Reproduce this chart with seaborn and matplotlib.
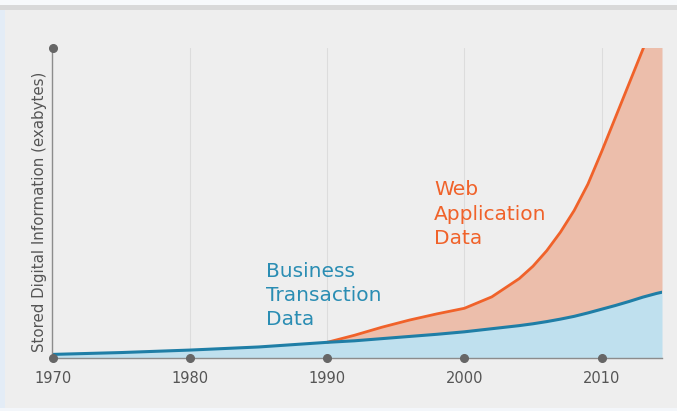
import numpy as np
import pandas as pd
import matplotlib
matplotlib.use("Agg")
import matplotlib.pyplot as plt
import seaborn as sns
from matplotlib.patches import Rectangle

# Data (arbitrary units: top of axis = 100)
years = [1970, 1975, 1980, 1985, 1990, 1992, 1994, 1996, 1998, 2000, 2002,
         2004, 2005, 2006, 2007, 2008, 2009, 2010, 2011, 2012, 2013, 2014, 2014.4]
business = [1.0, 1.6, 2.4, 3.4, 4.9, 5.4, 6.1, 6.8, 7.5, 8.3, 9.3,
            10.3, 10.9, 11.6, 12.4, 13.3, 14.4, 15.6, 16.8, 18.1, 19.5, 20.7, 21.1]
web_start = 1990
web = [4.9, 7.2, 9.8, 12.1, 14.1, 15.9, 19.6,
       25.5, 29.5, 34.5, 40.5, 47.5, 56.0, 66.5, 77.5, 88.5, 99.5, 110.5, 115.0]
decades = [1970, 1980, 1990, 2000, 2010]
decade_labels = ["1970", "1980", "1990", "2000", "2010"]

df = pd.DataFrame({"year": years, "business": business})
web_df = df[df["year"] >= web_start].copy()
web_df["web"] = web

BLUE_LINE = "#1f7ea6"
BLUE_FILL = "#bfe0ee"
ORANGE_LINE = "#f0622a"
ORANGE_FILL = "#ecbeab"
PANEL = "#eeeeee"
AXIS = "#8c8c8c"
DOT = "#666666"
TEXT = "#555555"

sns.set_style("white")
plt.rcParams["font.family"] = ["DejaVu Sans"]

fig = plt.figure(figsize=(6.77, 4.11), dpi=100, facecolor=PANEL)
# page frame bits around the panel
fig.patches.append(Rectangle((0, 1 - 5 / 411), 1, 5 / 411, transform=fig.transFigure,
                             facecolor="#f7f9fb", edgecolor="none", zorder=0))
fig.patches.append(Rectangle((0, 1 - 10 / 411), 1, 5 / 411, transform=fig.transFigure,
                             facecolor="#d9d9d9", edgecolor="none", zorder=0))
fig.patches.append(Rectangle((0, 0), 5 / 677, 1 - 10 / 411, transform=fig.transFigure,
                             facecolor="#e3ecf6", edgecolor="none", zorder=0))
fig.patches.append(Rectangle((0, 0), 1, 3 / 411, transform=fig.transFigure,
                             facecolor="#f3f6fa", edgecolor="none", zorder=0))

ax = fig.add_axes([52 / 677, 1 - 357.5 / 411, 610 / 677, 309.5 / 411])
ax.set_facecolor(PANEL)

# fills
ax.fill_between(df["year"], 0, df["business"], color=BLUE_FILL, lw=0, zorder=1)
ax.fill_between(web_df["year"], web_df["business"], web_df["web"],
                color=ORANGE_FILL, lw=0, zorder=1)

# lines
sns.lineplot(data=web_df, x="year", y="web", ax=ax, color=ORANGE_LINE, lw=2,
             zorder=3, solid_joinstyle="round")
sns.lineplot(data=df, x="year", y="business", ax=ax, color=BLUE_LINE, lw=2.2,
             zorder=4, solid_joinstyle="round")

ax.set_xlim(1969.95, 2014.4)
ax.set_ylim(0, 100)

# vertical grid
for d in decades[1:]:
    ax.axvline(d, color="#dcdcdc", lw=0.8, zorder=0.5)

for s in ["top", "right"]:
    ax.spines[s].set_visible(False)
for s in ["left", "bottom"]:
    ax.spines[s].set_color(AXIS)
    ax.spines[s].set_linewidth(1)
    ax.spines[s].set_zorder(5)

# dots on axes
ax.plot(decades, [0] * len(decades), "o", color=DOT, ms=5.5, clip_on=False, zorder=6)
ax.plot([decades[0]], [100], "o", color=DOT, ms=5.5, clip_on=False, zorder=6)

ax.set_xticks(decades)
ax.set_xticklabels(decade_labels)
ax.set_yticks([])
ax.tick_params(axis="x", length=0, pad=10, labelsize=10.5, labelcolor=TEXT)
ax.set_xlabel("")
ax.set_ylabel("Stored Digital Information (exabytes)", fontsize=10.8,
              color=TEXT, labelpad=6)
ax.yaxis.set_label_coords(-0.009, 0.47)

ax.text(0.351, 0.31, "Business\nTransaction\nData", transform=ax.transAxes,
        ha="left", va="top", fontsize=14.5, color="#2a8db3", linespacing=1.35)
ax.text(0.626, 0.572, "Web\nApplication\nData", transform=ax.transAxes,
        ha="left", va="top", fontsize=14.5, color=ORANGE_LINE, linespacing=1.35)

fig.savefig("out.png", dpi=100, facecolor=fig.get_facecolor())
